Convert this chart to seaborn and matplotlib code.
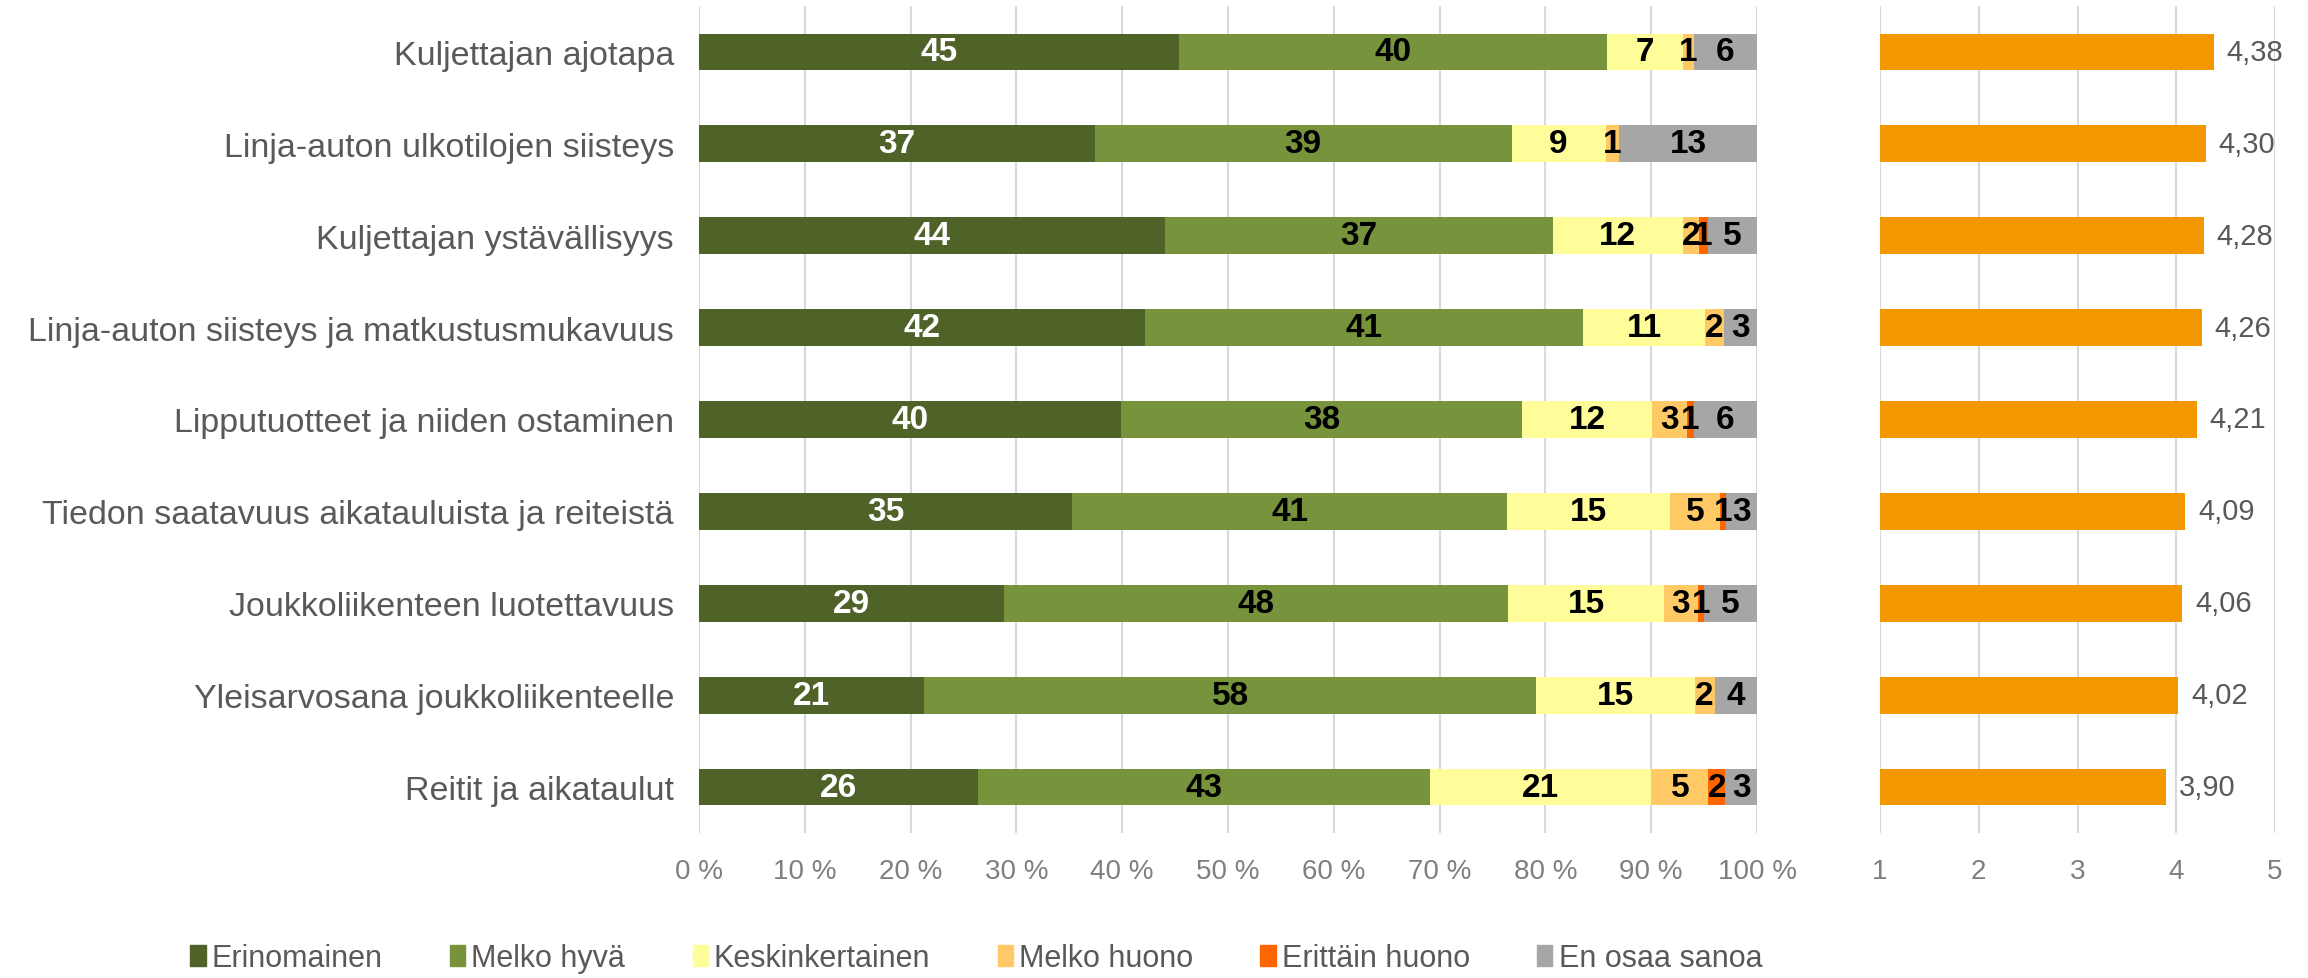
import matplotlib
matplotlib.use("Agg")
import matplotlib.pyplot as plt
import matplotlib.patches as mpatches
import numpy as np
import pandas as pd
import seaborn as sns

# Data (percent shares)
categories = [
    "Kuljettajan ajotapa",
    "Linja-auton ulkotilojen siisteys",
    "Kuljettajan ystävällisyys",
    "Linja-auton siisteys ja matkustusmukavuus",
    "Lipputuotteet ja niiden ostaminen",
    "Tiedon saatavuus aikatauluista ja reiteistä",
    "Joukkoliikenteen luotettavuus",
    "Yleisarvosana joukkoliikenteelle",
    "Reitit ja aikataulut",
]
erinomainen = [45.4, 37.4, 44.0, 42.2, 39.9, 35.3, 28.8, 21.3, 26.4]
melko_hyva = [40.4, 39.4, 36.7, 41.4, 37.9, 41.1, 47.7, 57.8, 42.7]
keskinkertainen = [7.2, 8.9, 12.3, 11.45, 12.3, 15.4, 14.7, 15.0, 20.9]
melko_huono = [1.05, 1.3, 1.5, 1.8, 3.3, 4.7, 3.2, 1.9, 5.4]
erittain_huono = [0, 0, 0.9, 0, 0.6, 0.6, 0.6, 0, 1.6]
en_osaa = [5.95, 13.0, 4.6, 3.15, 6.0, 2.9, 5.0, 4.0, 3.0]
keskiarvo = [4.38, 4.30, 4.28, 4.26, 4.21, 4.09, 4.06, 4.02, 3.90]

series_names = ["Erinomainen", "Melko hyvä", "Keskinkertainen",
                "Melko huono", "Erittäin huono", "En osaa sanoa"]
series_colors = ["#4F6228", "#77933C", "#FFFD99", "#FFC966", "#FF6600", "#A6A6A6"]
label_colors = ["white", "black", "black", "black", "black", "black"]

sns.set_theme(style="white")
plt.rcParams["font.family"] = ["Liberation Sans", "DejaVu Sans"]

df = pd.DataFrame(
    [erinomainen, melko_hyva, keskinkertainen, melko_huono, erittain_huono, en_osaa],
    index=series_names, columns=categories,
).T
cum = df.cumsum(axis=1)

fig = plt.figure(figsize=(23.08, 9.79), dpi=100)
bottom = 1 - 834 / 979
height = (834 - 7) / 979
ax1 = fig.add_axes([699 / 2308, bottom, (1757 - 699) / 2308, height])
ax2 = fig.add_axes([1880 / 2308, bottom, (2275 - 1880) / 2308, height])

gray = "#595959"
grid = "#D9D9D9"

# Stacked bars: draw cumulative totals, largest first
for name, color in reversed(list(zip(series_names, series_colors))):
    sns.barplot(x=cum[name].values, y=categories, orient="h", color=color,
                saturation=1, width=0.4, ax=ax1, linewidth=0, zorder=3)

# Segment labels
for i, cat in enumerate(categories):
    start = 0
    for name, lc in zip(series_names, label_colors):
        v = df.loc[cat, name]
        if v > 0:
            ax1.text(start + v / 2, i, f"{round(v):d}", ha="center", va="center",
                     color=lc, fontsize=24, fontweight="bold", zorder=4)
        start += v

ax1.set_xlim(0, 100)
ax1.set_xticks(np.arange(0, 101, 10))
ax1.set_xticklabels([f"{t} %" for t in range(0, 101, 10)])
ax1.grid(axis="x", color=grid, linewidth=1.5, zorder=0)
ax1.set_axisbelow(True)
ax1.tick_params(axis="x", length=0, pad=18, labelsize=20, labelcolor="#7F7F7F")
ax1.tick_params(axis="y", length=0, pad=18, labelsize=24.5, labelcolor=gray)
ax1.set_xlabel("")
ax1.set_ylabel("")
ax1.set_ylim(8.5, -0.5)
for s in ax1.spines.values():
    s.set_visible(False)

# Mean score bars
sns.barplot(x=keskiarvo, y=categories, orient="h", color="#F39800",
            saturation=1, width=0.4, ax=ax2, linewidth=0, zorder=3)
for i, v in enumerate(keskiarvo):
    ax2.text(v + 0.13, i, f"{v:.2f}".replace(".", ","), ha="left", va="center",
             color=gray, fontsize=21)
ax2.set_xlim(1, 5)
ax2.set_xticks([1, 2, 3, 4, 5])
ax2.grid(axis="x", color=grid, linewidth=1.5, zorder=0)
ax2.set_axisbelow(True)
ax2.tick_params(axis="x", length=0, pad=18, labelsize=20, labelcolor="#7F7F7F")
ax2.set_yticks([])
ax2.set_xlabel("")
ax2.set_ylabel("")
ax2.set_ylim(8.5, -0.5)
for s in ax2.spines.values():
    s.set_visible(False)

handles = [mpatches.Patch(color=c, label=n) for n, c in zip(series_names, series_colors)]
fig.legend(handles=handles, loc="center", bbox_to_anchor=(0.423, 0.02), ncol=6,
           frameon=False, fontsize=22, handlelength=0.5, handleheight=0.7,
           handletextpad=0.2, columnspacing=2.2, labelcolor=gray)

fig.savefig("out.png", dpi=100)
